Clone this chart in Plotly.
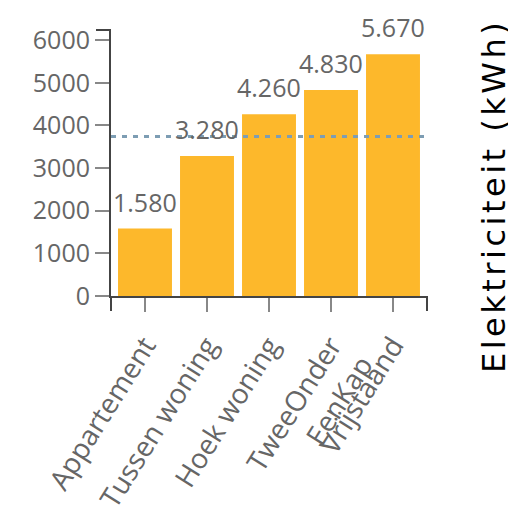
import plotly.graph_objects as go

categories = ["Appartement", "Tussen woning", "Hoek woning", "TweeOnder<br>EenKap", "Vrijstaand"]
values = [1580, 3280, 4260, 4830, 5670]
value_labels = ["1.580", "3.280", "4.260", "4.830", "5.670"]
average_value = 3740
y_ticks = [0, 1000, 2000, 3000, 4000, 5000, 6000]
y_title = "Elektriciteit (kWh)"

bar_color = "#fdb82b"
text_gray = "#666666"
axis_color = "#444444"

fig = go.Figure()
fig.add_trace(go.Bar(x=categories, y=values, marker=dict(color=bar_color, line=dict(width=0)),
                     hoverinfo="skip"))

for c, v, t in zip(categories, values, value_labels):
    fig.add_annotation(x=c, y=v, text=t, showarrow=False, yanchor="bottom", yshift=8,
                       font=dict(family="Open Sans", size=25, color=text_gray))

fig.add_hline(y=average_value, line=dict(color="#7d9db3", width=3, dash="5px,6px"))

fig.add_annotation(xref="paper", yref="paper", x=1, y=0.5, xanchor="center", yanchor="middle",
                   xshift=67, yshift=-33,
                   text='<span style="letter-spacing:3.5px">' + y_title + '</span>',
                   textangle=-90, showarrow=False,
                   font=dict(family="DejaVu Sans", size=32, color="#000000"))

# axis end caps
fig.add_shape(type="line", xref="paper", yref="paper", xsizemode="pixel", xanchor=0, x0=-15, x1=0,
              y0=1, y1=1, line=dict(color=axis_color, width=2))
fig.add_shape(type="line", xref="paper", yref="paper", ysizemode="pixel", yanchor=0, x0=0, x1=0,
              y0=-15, y1=0, line=dict(color=axis_color, width=2))
fig.add_shape(type="line", xref="paper", yref="paper", ysizemode="pixel", yanchor=0, x0=1, x1=1,
              y0=-15, y1=0, line=dict(color=axis_color, width=2))

fig.update_layout(
    width=516, height=512,
    margin=dict(l=103, r=97, t=22, b=224, autoexpand=False),
    paper_bgcolor="white", plot_bgcolor="white",
    bargap=0.13, showlegend=False,
    xaxis=dict(showgrid=False, zeroline=False, showline=True, linecolor=axis_color, linewidth=2,
               automargin=False,
               ticks="outside", ticklen=14, tickwidth=2, tickcolor="#888888",
               ticklabelstandoff=6,
               tickangle=-58, tickfont=dict(family="Open Sans", size=28, color=text_gray)),
    yaxis=dict(range=[0, 6237], tickvals=y_ticks, showgrid=False, zeroline=False, showline=True,
               automargin=False,
               linecolor=axis_color, linewidth=2, ticks="outside", ticklen=14, tickwidth=2,
               tickcolor="#888888", tickfont=dict(family="Open Sans", size=25, color=text_gray)),
)

fig.write_html("out.html")
